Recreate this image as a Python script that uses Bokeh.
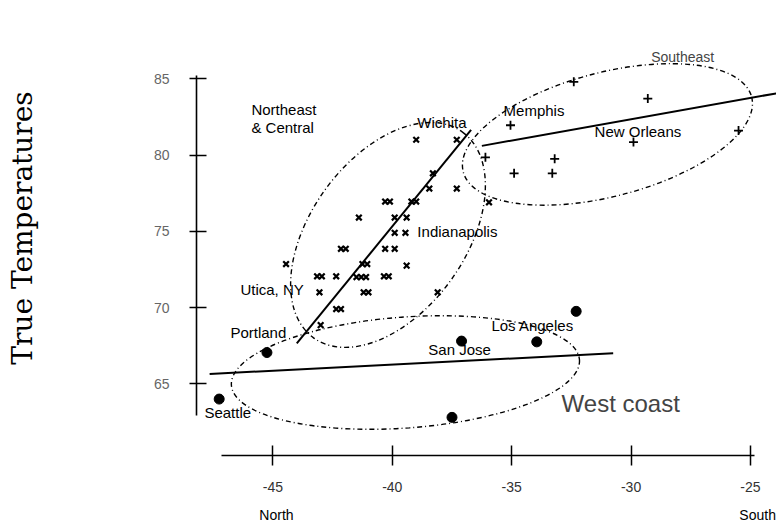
import math
from bokeh.plotting import figure
from bokeh.models import Range1d, FixedTicker, Label, LinearAxis
from bokeh.embed import file_html
from bokeh.resources import INLINE

# ---- data (latitude shown as negative degrees, temperature in F) ----
ne_lat = [-39.0, -37.3, -38.3, -38.45, -37.3, -40.3, -40.1, -39.2, -39.0, -41.4,
          -39.9, -39.4, -39.9, -39.45, -42.15, -41.95, -40.3, -39.9, -44.45, -41.25,
          -41.05, -39.4, -43.15, -42.95, -42.35, -41.5, -41.3, -41.1, -40.35, -40.15,
          -43.05, -41.2, -41.0, -38.1, -42.35, -42.15, -43.0, -35.95]
ne_temp = [81.0, 81.0, 78.8, 77.8, 77.8, 76.95, 76.95, 76.95, 76.95, 75.9,
           75.9, 75.9, 74.9, 74.9, 73.85, 73.85, 73.85, 73.85, 72.85, 72.85,
           72.85, 72.75, 72.05, 72.05, 72.05, 72.0, 72.0, 72.0, 72.05, 72.05,
           71.0, 71.0, 71.0, 71.0, 69.9, 69.9, 68.85, 76.9]

se_lat = [-32.4, -29.3, -35.05, -29.9, -25.5, -36.1, -33.2, -34.9, -33.3]
se_temp = [84.8, 83.7, 81.95, 80.85, 81.6, 79.85, 79.75, 78.8, 78.8]

wc_lat = [-45.25, -47.25, -37.1, -33.95, -32.3, -37.5]
wc_temp = [67.05, 64.0, 67.8, 67.75, 69.75, 62.8]

# fitted lines (end points of each regional fit)
ne_fit_lat = [-44.0, -36.7]
ne_fit_temp = [67.65, 81.65]
se_fit_lat = [-36.25, -23.0]
se_fit_temp = [80.6, 84.3]
wc_fit_lat = [-47.65, -30.75]
wc_fit_temp = [65.65, 67.0]

x_ticks = [-45, -40, -35, -30, -25]
y_ticks = [65, 70, 75, 80, 85]
direction_ticks = [-44.85, -24.7]
direction_labels = ["North", "South"]

# text annotations: (text, lat, temp)
city_labels = [
    ("Northeast", -45.9, 82.99),
    ("& Central", -45.9, 81.81),
    ("Wichita", -38.95, 82.13),
    ("Memphis", -35.34, 82.92),
    ("New Orleans", -31.53, 81.54),
    ("Indianapolis", -38.95, 74.99),
    ("Utica, NY", -46.36, 71.18),
    ("Portland", -46.78, 68.36),
    ("San Jose", -38.49, 67.25),
    ("Los Angeles", -35.85, 68.82),
    ("Seattle", -47.87, 63.12),
]

SANS = "Liberation Sans"

p = figure(width=776, height=529, output_backend="svg", toolbar_location=None,
           x_range=Range1d(-48.2, -23.91), y_range=Range1d(60.3, 90.13),
           min_border=0, min_border_left=196, min_border_bottom=74,
           min_border_right=0, min_border_top=0)
p.outline_line_color = None
p.xgrid.visible = False
p.ygrid.visible = False
p.background_fill_color = "white"
p.border_fill_color = "white"

# axes
xa = p.xaxis[0]
xa.ticker = FixedTicker(ticks=x_ticks)
xa.major_label_overrides = {float(t): str(t) for t in x_ticks}
xa.bounds = (-47.16, -24.83)
xa.axis_line_width = 1.6
xa.major_tick_line_width = 1.5
xa.major_tick_in = 10
xa.major_tick_out = 10
xa.minor_tick_line_color = None
xa.major_label_text_font = SANS
xa.major_label_text_font_size = "14px"
xa.major_label_text_color = "#333333"
xa.major_label_standoff = 16

ns_axis = LinearAxis(ticker=FixedTicker(ticks=direction_ticks),
                     major_label_overrides=dict(zip(direction_ticks, direction_labels)),
                     axis_line_color=None, major_tick_line_color=None,
                     minor_tick_line_color=None, major_tick_in=0, major_tick_out=0,
                     major_label_standoff=12, major_label_text_font=SANS,
                     major_label_text_font_size="14px", major_label_text_color="black")
p.add_layout(ns_axis, "below")

ya = p.yaxis[0]
ya.ticker = FixedTicker(ticks=y_ticks)
ya.bounds = (62.95, 85.2)
ya.axis_line_width = 1.6
ya.major_tick_line_width = 1.5
ya.major_tick_in = 10
ya.major_tick_out = 7
ya.minor_tick_line_color = None
ya.major_label_text_font = SANS
ya.major_label_text_font_size = "14px"
ya.major_label_text_color = "#666666"
ya.major_label_standoff = 20
ya.axis_label = "True Temperatures"
ya.axis_label_text_font = "DejaVu Serif"
ya.axis_label_text_font_size = "28px"
ya.axis_label_text_font_style = "normal"
ya.axis_label_text_color = "black"
ya.axis_label_standoff = 112

# ellipses (dash-dot outlines)
dash = "5 3 1 3"
p.ellipse(x=-40.18, y=74.76, width=254, height=155, angle=math.radians(54.1),
          width_units="screen", height_units="screen",
          fill_color=None, line_color="black", line_width=1.4, line_dash=dash)
p.ellipse(x=-30.99, y=81.35, width=298, height=124, angle=math.radians(14.6),
          width_units="screen", height_units="screen",
          fill_color=None, line_color="black", line_width=1.4, line_dash=dash)
p.ellipse(x=-39.45, y=65.74, width=349, height=111, angle=math.radians(4.2),
          width_units="screen", height_units="screen",
          fill_color=None, line_color="black", line_width=1.4, line_dash=dash)

# fitted lines
p.line(ne_fit_lat, ne_fit_temp, line_color="black", line_width=2)
p.line(se_fit_lat, se_fit_temp, line_color="black", line_width=2)
p.line(wc_fit_lat, wc_fit_temp, line_color="black", line_width=2)

# points
p.scatter(ne_lat, ne_temp, marker="x", size=8, line_width=2.2, line_color="black")
p.scatter(se_lat, se_temp, marker="cross", size=9, line_width=1.8, line_color="black")
p.scatter(wc_lat, wc_temp, marker="circle", size=10, fill_color="black", line_color="black")

for txt, lx, ly in city_labels:
    p.add_layout(Label(x=lx, y=ly, text=txt, text_font=SANS, text_font_size="15px",
                       text_baseline="middle", text_align="left", text_color="black"))

p.add_layout(Label(x=-32.91, y=63.71, text="West coast", text_font=SANS,
                   text_font_size="24px", text_baseline="middle", text_align="left"))
p.add_layout(Label(x=-27.84, y=86.4, text="Southeast", text_font=SANS,
                   text_font_size="14px", text_baseline="middle", text_align="center"))

open("out.html", "w").write(file_html(p, INLINE))
